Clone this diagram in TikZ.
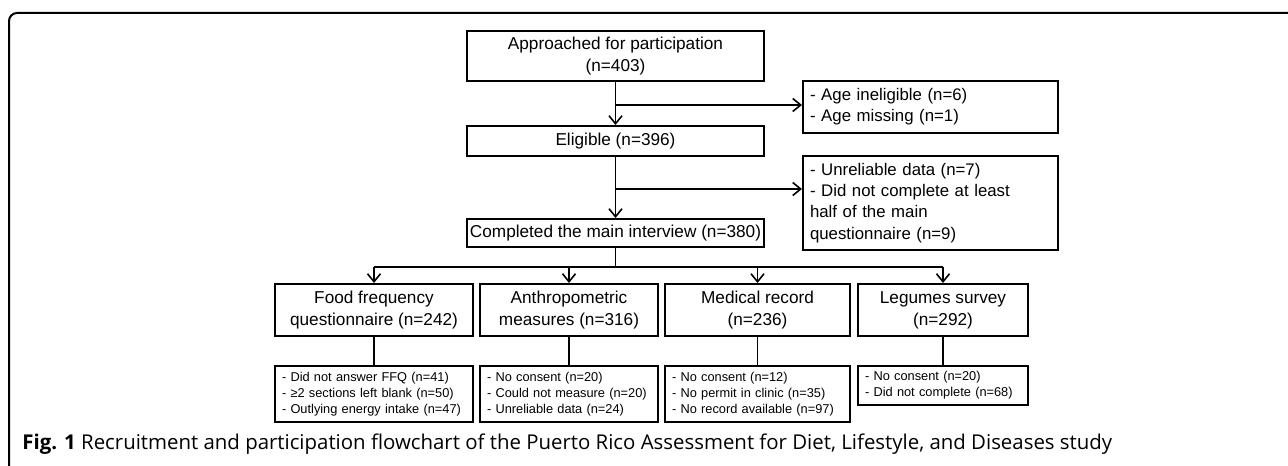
\documentclass[tikz,border=0pt]{standalone}
\usepackage{fontspec}
\setmainfont{Liberation Sans}
\newfontfamily\capfont{Open Sans}
\usetikzlibrary{arrows.meta}

\tikzset{
  mainbox/.style={draw, line width=1pt, align=center, inner sep=0pt,
    font=\fontsize{8.6}{11}\selectfont},
  sidebox/.style={draw, line width=1pt, align=left, inner xsep=3.5pt, inner ysep=0pt,
    font=\fontsize{8.4}{10.6}\selectfont},
  exclbox/.style={draw, line width=0.9pt, align=left, inner xsep=3.5pt, inner ysep=0pt,
    font=\fontsize{6.4}{8.1}\selectfont},
  link/.style={line width=0.8pt},
  arr/.style={link, -{Straight Barb[length=4pt,width=6.5pt]}}
}

\begin{document}
\begin{tikzpicture}[x=0.5pt, y=-0.5pt]
  \useasboundingbox (0,0) rectangle (1288,465);
  % frame of the figure
  \draw[line width=1pt, rounded corners=4pt] (1292,13) -- (9,13) -- (9,469);

  % main flow
  \node[mainbox, minimum width=148.5pt, minimum height=25pt] (appr) at (615.5,56)
    {Approached for participation\\(n=403)};
  \node[mainbox, minimum width=148.5pt, minimum height=15pt] (elig) at (615.5,141)
    {Eligible (n=396)};
  \node[mainbox, minimum width=148.5pt, minimum height=14pt] (compl) at (615.5,233)
    {Completed the main interview (n=380)};

  % exclusions on the right
  \node[sidebox, text width=120.5pt, minimum height=26pt] (agex) at (930.5,107)
    {- Age ineligible (n=6)\\- Age missing (n=1)};
  \node[sidebox, text width=120.5pt, minimum height=47pt] (intx) at (930.5,203)
    {- Unreliable data (n=7)\\- Did not complete at least\\half of the main\\questionnaire (n=9)};

  % components
  \node[mainbox, minimum width=99pt, minimum height=26pt] (ffq) at (374,310)
    {Food frequency\\questionnaire (n=242)};
  \node[mainbox, minimum width=89pt, minimum height=26pt] (anth) at (569,310)
    {Anthropometric\\measures (n=316)};
  \node[mainbox, minimum width=92.5pt, minimum height=26pt] (med) at (757.5,310)
    {Medical record\\(n=236)};
  \node[mainbox, minimum width=85pt, minimum height=26pt] (leg) at (943,310)
    {Legumes survey\\(n=292)};

  % exclusions below the components
  \node[exclbox, text width=92pt, minimum height=28pt] (ffqx) at (374,394)
    {- Did not answer FFQ (n=41)\\- ≥2 sections left blank (n=50)\\- Outlying energy intake (n=47)};
  \node[exclbox, text width=82pt, minimum height=28pt] (anthx) at (569,394)
    {- No consent (n=20)\\- Could not measure (n=20)\\- Unreliable data (n=24)};
  \node[exclbox, text width=85.5pt, minimum height=28pt] (medx) at (757.5,394)
    {- No consent (n=12)\\- No permit in clinic (n=35)\\- No record available (n=97)};
  \node[exclbox, text width=78pt, minimum height=19.5pt] (legx) at (943,385.5)
    {- No consent (n=20)\\- Did not complete (n=68)};

  \coordinate (split1) at (615.5,105);
  \coordinate (split2) at (615.5,189);
  \coordinate (bus) at (615.5,267);

  \draw[arr] (appr) -- (elig);
  \draw[arr] (split1) -- (split1 -| agex.west);
  \draw[arr] (elig) -- (compl);
  \draw[arr] (split2) -- (split2 -| intx.west);
  \draw[link] (compl) -- (bus);
  \draw[link] (bus -| ffq.north) -- (bus -| leg.north);
  \foreach \n in {ffq, anth, med, leg}
    \draw[arr] (bus -| \n.north) -- (\n.north);
  \foreach \n in {ffq, anth, med, leg}
    \draw[link] (\n.south) -- (\n x.north);

  % caption
  \node[anchor=base west, inner sep=0pt, font=\capfont\fontsize{10.2}{12}\selectfont] (cap) at (22,449)
    {\textbf{Fig. 1} Recruitment and participation flowchart of the Puerto Rico Assessment for Diet, Lifestyle, and Diseases study};
\end{tikzpicture}
\end{document}
